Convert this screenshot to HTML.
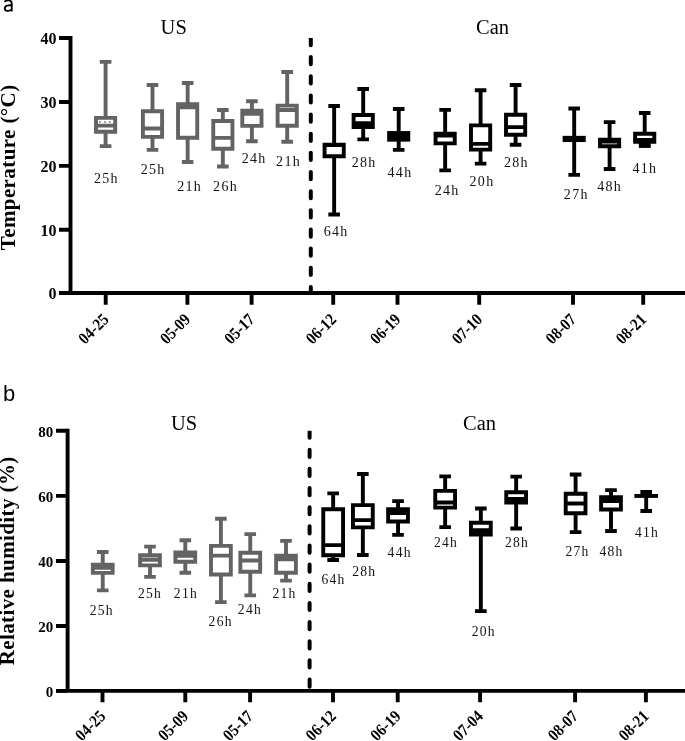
<!DOCTYPE html><html><head><meta charset="utf-8"><style>
html,body{margin:0;padding:0;background:#fff;width:685px;height:741px;overflow:hidden}
svg{display:block;will-change:transform}
.yt{font-family:"Liberation Serif",serif;font-weight:bold}
.xt{font-family:"Liberation Serif",serif;font-weight:bold;font-size:16.8px}
.lb{font-family:"Liberation Serif",serif;fill:#111}
.tt{font-family:"Liberation Serif",serif;font-size:20.5px}
.at{font-family:"Liberation Serif",serif;font-weight:bold;font-size:21px;letter-spacing:0.4px}
.pl{font-family:"Liberation Sans",sans-serif;font-size:22px}
</style></head><body>
<svg width="685" height="741" viewBox="0 0 685 741">
<path d="M11.75 3.2V11.6M4.4 1.7C6.5 0.2 11.7 -0.9 11.75 3.6M11.75 5.3C8.5 5.0 4.8 5.4 4.8 8.4C4.8 11.4 9.2 11.6 11.75 9.4" stroke="#000" stroke-width="1.85" fill="none"/>
<text class="pl" x="3" y="401.3">b</text>
<text class="tt" x="173.7" y="34.4" text-anchor="middle">US</text>
<text class="tt" x="492.6" y="34.4" text-anchor="middle">Can</text>
<text class="tt" x="184" y="430.2" text-anchor="middle">US</text>
<text class="tt" x="479.6" y="430.2" text-anchor="middle">Can</text>
<text class="at" transform="translate(14.9 167.35) rotate(-90)" text-anchor="middle">Temperature (°C)</text>
<text class="at" transform="translate(14.1 560.8) rotate(-90)" text-anchor="middle">Relative humidity (%)</text>
<clipPath id="clipa"><rect x="290" y="38" width="40" height="255"/></clipPath>
<path clip-path="url(#clipa)" d="M310.8 18.8V26M310.8 37.95V45.15M310.8 57.1V64.3M310.8 76.25V83.45M310.8 95.4V102.6M310.8 114.55V121.75M310.8 133.7V140.9M310.8 152.85V160.05M310.8 172V179.2M310.8 191.15V198.35M310.8 210.3V217.5M310.8 229.45V236.65M310.8 248.6V255.8M310.8 267.75V274.95M310.8 286.9V294.1" stroke="#000" stroke-width="4" stroke-linecap="round" fill="none"/>
<path d="M70.5 36.05V293M59 293H685" stroke="#000" stroke-width="3.9" fill="none"/>
<path d="M59 38H70.5M59 102H70.5M59 165.9H70.5M59 229.7H70.5M59 293H70.5" stroke="#000" stroke-width="3.9" fill="none"/>
<path d="M105.7 293V304.7M187.4 293V304.7M251.6 293V304.7M333.2 293V304.7M397.5 293V304.7M479.2 293V304.7M573 293V304.7M643.2 293V304.7" stroke="#000" stroke-width="3.9" fill="none"/>
<text class="yt" style="font-size:16px" x="56.5" y="44.44" text-anchor="end">40</text>
<text class="yt" style="font-size:16px" x="56.5" y="108.44" text-anchor="end">30</text>
<text class="yt" style="font-size:16px" x="56.5" y="172.34" text-anchor="end">20</text>
<text class="yt" style="font-size:16px" x="56.5" y="236.14" text-anchor="end">10</text>
<text class="yt" style="font-size:16px" x="56.5" y="299.44" text-anchor="end">0</text>
<text class="xt" text-anchor="end" transform="translate(109.7 320.4) rotate(-45) scale(0.89 1)">04-25</text>
<text class="xt" text-anchor="end" transform="translate(191.4 320.4) rotate(-45) scale(0.89 1)">05-09</text>
<text class="xt" text-anchor="end" transform="translate(255.6 320.4) rotate(-45) scale(0.89 1)">05-17</text>
<text class="xt" text-anchor="end" transform="translate(337.2 320.4) rotate(-45) scale(0.89 1)">06-12</text>
<text class="xt" text-anchor="end" transform="translate(401.5 320.4) rotate(-45) scale(0.89 1)">06-19</text>
<text class="xt" text-anchor="end" transform="translate(483.2 320.4) rotate(-45) scale(0.89 1)">07-10</text>
<text class="xt" text-anchor="end" transform="translate(577 320.4) rotate(-45) scale(0.89 1)">08-07</text>
<text class="xt" text-anchor="end" transform="translate(647.2 320.4) rotate(-45) scale(0.89 1)">08-21</text>
<path d="M99.8 61.9H111.4M105.6 61.9V117.85M105.6 131.7V146.15M99.8 146.15H111.4" stroke="#636363" stroke-width="3.9" fill="none"/>
<path d="M94.05 115.9H117.15V133.65H94.05ZM97.95 119.8H113.25V123.65H97.95ZM97.95 127.55H113.25V129.75H97.95Z" fill="#636363" fill-rule="evenodd"/>
<path d="M99.15 121.9H111.1" stroke="#636363" stroke-width="1.5" stroke-dasharray="1.5 3.5"/>
<path d="M146.7 85H158.3M152.5 85V111.2M152.5 136.9V149.9M146.7 149.9H158.3" stroke="#636363" stroke-width="3.9" fill="none"/>
<path d="M140.95 109.25H164.05V138.85H140.95ZM144.85 113.15H160.15V126.5H144.85ZM144.85 130.4H160.15V134.95H144.85Z" fill="#636363" fill-rule="evenodd"/>
<path d="M181.85 83.05H193.45M187.65 83.05V104.2M187.65 137.8V162M181.85 162H193.45" stroke="#636363" stroke-width="3.9" fill="none"/>
<path d="M176.1 102.25H199.2V139.75H176.1ZM180 109.35H195.3V135.85H180Z" fill="#636363" fill-rule="evenodd"/>
<path d="M217.05 110.05H228.65M222.85 110.05V120.95M222.85 148.75V166.55M217.05 166.55H228.65" stroke="#636363" stroke-width="3.9" fill="none"/>
<path d="M211.3 119H234.4V150.7H211.3ZM215.2 122.9H230.5V135.95H215.2ZM215.2 139.85H230.5V146.8H215.2Z" fill="#636363" fill-rule="evenodd"/>
<path d="M246.1 101.25H257.7M251.9 101.25V110.75M251.9 125.85V141.2M246.1 141.2H257.7" stroke="#636363" stroke-width="3.9" fill="none"/>
<path d="M240.35 108.8H263.45V127.8H240.35ZM244.25 115.75H259.55V123.9H244.25Z" fill="#636363" fill-rule="evenodd"/>
<path d="M281.4 72.05H293M287.2 72.05V105.6M287.2 125.7V141.7M281.4 141.7H293" stroke="#636363" stroke-width="3.9" fill="none"/>
<path d="M275.65 103.65H298.75V127.65H275.65ZM279.55 107.55H294.85V108.05H279.55ZM279.55 111.95H294.85V123.75H279.55Z" fill="#636363" fill-rule="evenodd"/>
<path d="M328.35 106.05H339.95M334.15 106.05V144.7M334.15 156.3V214.45M328.35 214.45H339.95" stroke="#000" stroke-width="3.9" fill="none"/>
<path d="M322.6 142.75H345.7V158.25H322.6ZM326.5 146.95H341.8V154.35H326.5Z" fill="#000" fill-rule="evenodd"/>
<path d="M357.4 88.95H369M363.2 88.95V115M363.2 127V139.35M357.4 139.35H369" stroke="#000" stroke-width="3.9" fill="none"/>
<path d="M351.65 113.05H374.75V128.95H351.65ZM355.55 116.95H370.85V121.15H355.55Z" fill="#000" fill-rule="evenodd"/>
<path d="M392.9 108.95H404.5M398.7 108.95V133M398.7 139.7V149.85M392.9 149.85H404.5" stroke="#000" stroke-width="3.9" fill="none"/>
<path d="M387.15 131.05H410.25V141.65H387.15Z" fill="#000" fill-rule="evenodd"/>
<path d="M439.35 109.9H450.95M445.15 109.9V133.7M445.15 143.4V170.35M439.35 170.35H450.95" stroke="#000" stroke-width="3.9" fill="none"/>
<path d="M433.6 131.75H456.7V145.35H433.6ZM437.5 137.45H452.8V141.45H437.5Z" fill="#000" fill-rule="evenodd"/>
<path d="M474.8 90.2H486.4M480.6 90.2V125.4M480.6 149.6V163.6M474.8 163.6H486.4" stroke="#000" stroke-width="3.9" fill="none"/>
<path d="M469.05 123.45H492.15V151.55H469.05ZM472.95 127.35H488.25V141.9H472.95ZM472.95 145.8H488.25V147.65H472.95Z" fill="#000" fill-rule="evenodd"/>
<path d="M509.8 84.95H521.4M515.6 84.95V114.7M515.6 134.8V144.75M509.8 144.75H521.4" stroke="#000" stroke-width="3.9" fill="none"/>
<path d="M504.05 112.75H527.15V136.75H504.05ZM507.95 116.65H523.25V125.15H507.95ZM507.95 129.05H523.25V132.85H507.95Z" fill="#000" fill-rule="evenodd"/>
<path d="M568.4 108.5H580M574.2 108.5V137.8M574.2 140.1V174.9M568.4 174.9H580" stroke="#000" stroke-width="3.9" fill="none"/>
<path d="M562.65 135.85H585.75V142.05H562.65Z" fill="#000" fill-rule="evenodd"/>
<path d="M603.8 122.15H615.4M609.6 122.15V139.6M609.6 146.3V169.05M603.8 169.05H615.4" stroke="#000" stroke-width="3.9" fill="none"/>
<path d="M598.05 137.65H621.15V148.25H598.05ZM601.95 143.55H617.25V144.35H601.95Z" fill="#000" fill-rule="evenodd"/>
<path d="M638.9 112.95H650.5M644.7 112.95V133.8M644.7 141.7V145.75M638.9 145.75H650.5" stroke="#000" stroke-width="3.9" fill="none"/>
<path d="M633.15 131.85H656.25V143.65H633.15ZM637.05 135.75H652.35V137.95H637.05Z" fill="#000" fill-rule="evenodd"/>
<rect x="638.9" y="141.7" width="11.6" height="6" fill="#000"/>
<text class="lb" style="font-size:14px;letter-spacing:1.3px" x="106.4" y="182.7" text-anchor="middle">25h</text>
<text class="lb" style="font-size:14px;letter-spacing:1.3px" x="153.1" y="173.7" text-anchor="middle">25h</text>
<text class="lb" style="font-size:14px;letter-spacing:1.3px" x="189.7" y="191.2" text-anchor="middle">21h</text>
<text class="lb" style="font-size:14px;letter-spacing:1.3px" x="225.55" y="191.2" text-anchor="middle">26h</text>
<text class="lb" style="font-size:14px;letter-spacing:1.3px" x="254.1" y="162.8" text-anchor="middle">24h</text>
<text class="lb" style="font-size:14px;letter-spacing:1.3px" x="288.55" y="166.3" text-anchor="middle">21h</text>
<text class="lb" style="font-size:14px;letter-spacing:1.3px" x="336.15" y="235.8" text-anchor="middle">64h</text>
<text class="lb" style="font-size:14px;letter-spacing:1.3px" x="364.1" y="167.2" text-anchor="middle">28h</text>
<text class="lb" style="font-size:14px;letter-spacing:1.3px" x="400" y="176.6" text-anchor="middle">44h</text>
<text class="lb" style="font-size:14px;letter-spacing:1.3px" x="447.2" y="195" text-anchor="middle">24h</text>
<text class="lb" style="font-size:14px;letter-spacing:1.3px" x="482" y="186.1" text-anchor="middle">20h</text>
<text class="lb" style="font-size:14px;letter-spacing:1.3px" x="516.35" y="167.1" text-anchor="middle">28h</text>
<text class="lb" style="font-size:14px;letter-spacing:1.3px" x="576.3" y="199" text-anchor="middle">27h</text>
<text class="lb" style="font-size:14px;letter-spacing:1.3px" x="609.6" y="190.7" text-anchor="middle">48h</text>
<text class="lb" style="font-size:14px;letter-spacing:1.3px" x="644.85" y="172.6" text-anchor="middle">41h</text>
<clipPath id="clipb"><rect x="290" y="430.8" width="40" height="260.1"/></clipPath>
<path clip-path="url(#clipb)" d="M309.6 411.4V418.6M309.6 430.55V437.75M309.6 449.7V456.9M309.6 468.85V476.05M309.6 488V495.2M309.6 507.15V514.35M309.6 526.3V533.5M309.6 545.45V552.65M309.6 564.6V571.8M309.6 583.75V590.95M309.6 602.9V610.1M309.6 622.05V629.25M309.6 641.2V648.4M309.6 660.35V667.55M309.6 679.5V686.7" stroke="#000" stroke-width="4" stroke-linecap="round" fill="none"/>
<path d="M67.6 428.85V690.9M56 690.9H685" stroke="#000" stroke-width="3.9" fill="none"/>
<path d="M56 430.8H67.6M56 495.9H67.6M56 561H67.6M56 626H67.6M56 690.9H67.6" stroke="#000" stroke-width="3.9" fill="none"/>
<path d="M102.5 690.9V702.2M185.3 690.9V702.2M250.1 690.9V702.2M333 690.9V702.2M397.7 690.9V702.2M480.1 690.9V702.2M575.1 690.9V702.2M645.9 690.9V702.2" stroke="#000" stroke-width="3.9" fill="none"/>
<text class="yt" style="font-size:15px" x="53.3" y="436.8" text-anchor="end">80</text>
<text class="yt" style="font-size:15px" x="53.3" y="501.9" text-anchor="end">60</text>
<text class="yt" style="font-size:15px" x="53.3" y="567" text-anchor="end">40</text>
<text class="yt" style="font-size:15px" x="53.3" y="632" text-anchor="end">20</text>
<text class="yt" style="font-size:15px" x="53.3" y="696.9" text-anchor="end">0</text>
<text class="xt" text-anchor="end" transform="translate(106.5 717.2) rotate(-45) scale(0.89 1)">04-25</text>
<text class="xt" text-anchor="end" transform="translate(189.3 717.2) rotate(-45) scale(0.89 1)">05-09</text>
<text class="xt" text-anchor="end" transform="translate(254.1 717.2) rotate(-45) scale(0.89 1)">05-17</text>
<text class="xt" text-anchor="end" transform="translate(337 717.2) rotate(-45) scale(0.89 1)">06-12</text>
<text class="xt" text-anchor="end" transform="translate(401.7 717.2) rotate(-45) scale(0.89 1)">06-19</text>
<text class="xt" text-anchor="end" transform="translate(484.1 717.2) rotate(-45) scale(0.89 1)">07-04</text>
<text class="xt" text-anchor="end" transform="translate(579.1 717.2) rotate(-45) scale(0.89 1)">08-07</text>
<text class="xt" text-anchor="end" transform="translate(649.9 717.2) rotate(-45) scale(0.89 1)">08-21</text>
<path d="M96.95 552.05H108.55M102.75 552.05V564.7M102.75 572.9V590.35M96.95 590.35H108.55" stroke="#636363" stroke-width="3.9" fill="none"/>
<path d="M90.9 562.75H114.6V574.85H90.9ZM94.8 569.85H110.7V570.95H94.8Z" fill="#636363" fill-rule="evenodd"/>
<path d="M144.2 546.65H155.8M150 546.65V555.3M150 565.4V576.9M144.2 576.9H155.8" stroke="#636363" stroke-width="3.9" fill="none"/>
<path d="M138.15 553.35H161.85V567.35H138.15ZM142.05 557.25H157.95V557.75H142.05ZM142.05 561.65H157.95V563.45H142.05Z" fill="#636363" fill-rule="evenodd"/>
<path d="M179.5 540.2H191.1M185.3 540.2V552.5M185.3 561.8V572.75M179.5 572.75H191.1" stroke="#636363" stroke-width="3.9" fill="none"/>
<path d="M173.45 550.55H197.15V563.75H173.45ZM177.35 557.65H193.25V559.85H177.35Z" fill="#636363" fill-rule="evenodd"/>
<path d="M215.1 518.75H226.7M220.9 518.75V545.9M220.9 574.5V602.15M215.1 602.15H226.7" stroke="#636363" stroke-width="3.9" fill="none"/>
<path d="M209.05 543.95H232.75V576.45H209.05ZM212.95 547.85H228.85V553.65H212.95ZM212.95 557.55H228.85V572.55H212.95Z" fill="#636363" fill-rule="evenodd"/>
<path d="M244.45 534.15H256.05M250.25 534.15V552.8M250.25 571.8V595.4M244.45 595.4H256.05" stroke="#636363" stroke-width="3.9" fill="none"/>
<path d="M238.4 550.85H262.1V573.75H238.4ZM242.3 554.75H258.2V558.55H242.3ZM242.3 562.45H258.2V569.85H242.3Z" fill="#636363" fill-rule="evenodd"/>
<path d="M280.2 540.9H291.8M286 540.9V555.8M286 572.8V580.65M280.2 580.65H291.8" stroke="#636363" stroke-width="3.9" fill="none"/>
<path d="M274.15 553.85H297.85V574.75H274.15ZM278.05 561.35H293.95V570.85H278.05Z" fill="#636363" fill-rule="evenodd"/>
<path d="M327.35 493.35H338.95M333.15 493.35V509.3M333.15 555.2V560M327.35 560H338.95" stroke="#000" stroke-width="3.9" fill="none"/>
<path d="M321.3 507.35H345V557.15H321.3ZM325.2 511.25H341.1V543.15H325.2ZM325.2 547.05H341.1V553.25H325.2Z" fill="#000" fill-rule="evenodd"/>
<path d="M357.05 473.95H368.65M362.85 473.95V505.1M362.85 527.4V555M357.05 555H368.65" stroke="#000" stroke-width="3.9" fill="none"/>
<path d="M351 503.15H374.7V529.35H351ZM354.9 507.05H370.8V518.15H354.9ZM354.9 522.05H370.8V525.45H354.9Z" fill="#000" fill-rule="evenodd"/>
<path d="M392.25 501.15H403.85M398.05 501.15V509.2M398.05 521.5V534.85M392.25 534.85H403.85" stroke="#000" stroke-width="3.9" fill="none"/>
<path d="M386.2 507.25H409.9V523.45H386.2ZM390.1 514.95H406V519.55H390.1Z" fill="#000" fill-rule="evenodd"/>
<path d="M439.35 476.35H450.95M445.15 476.35V490.9M445.15 507.65V527.15M439.35 527.15H450.95" stroke="#000" stroke-width="3.9" fill="none"/>
<path d="M433.3 488.95H457V509.6H433.3ZM437.2 492.85H453.1V500.55H437.2ZM437.2 504.45H453.1V505.7H437.2Z" fill="#000" fill-rule="evenodd"/>
<path d="M475.05 508.55H486.65M480.85 508.55V522.7M480.85 534.5V611.1M475.05 611.1H486.65" stroke="#000" stroke-width="3.9" fill="none"/>
<path d="M469 520.75H492.7V536.45H469ZM472.9 524.65H488.8V528.35H472.9Z" fill="#000" fill-rule="evenodd"/>
<path d="M510.35 476.65H521.95M516.15 476.65V492.3M516.15 502.6V528.45M510.35 528.45H521.95" stroke="#000" stroke-width="3.9" fill="none"/>
<path d="M504.3 490.35H528V504.55H504.3ZM508.2 494.25H524.1V497.05H508.2Z" fill="#000" fill-rule="evenodd"/>
<path d="M569.8 474.45H581.4M575.6 474.45V493.7M575.6 513.3V532.15M569.8 532.15H581.4" stroke="#000" stroke-width="3.9" fill="none"/>
<path d="M563.75 491.75H587.45V515.25H563.75ZM567.65 495.65H583.55V501.6H567.65ZM567.65 505.5H583.55V511.35H567.65Z" fill="#000" fill-rule="evenodd"/>
<path d="M605.2 490.15H616.8M611 490.15V497.2M611 509.45V531.05M605.2 531.05H616.8" stroke="#000" stroke-width="3.9" fill="none"/>
<path d="M599.15 495.25H622.85V511.4H599.15ZM603.05 503.05H618.95V507.5H603.05Z" fill="#000" fill-rule="evenodd"/>
<path d="M640.4 492H652M646.2 492V495.95M646.2 495.95V511.05M640.4 511.05H652" stroke="#000" stroke-width="3.9" fill="none"/>
<path d="M634.35 494H658.05V497.9H634.35Z" fill="#000" fill-rule="evenodd"/>
<text class="lb" style="font-size:13.6px;letter-spacing:1.25px" x="101.7" y="615.4" text-anchor="middle">25h</text>
<text class="lb" style="font-size:13.6px;letter-spacing:1.25px" x="150.05" y="598.3" text-anchor="middle">25h</text>
<text class="lb" style="font-size:13.6px;letter-spacing:1.25px" x="185.9" y="597.8" text-anchor="middle">21h</text>
<text class="lb" style="font-size:13.6px;letter-spacing:1.25px" x="220.65" y="625.9" text-anchor="middle">26h</text>
<text class="lb" style="font-size:13.6px;letter-spacing:1.25px" x="249.9" y="613.7" text-anchor="middle">24h</text>
<text class="lb" style="font-size:13.6px;letter-spacing:1.25px" x="284.55" y="597.7" text-anchor="middle">21h</text>
<text class="lb" style="font-size:13.6px;letter-spacing:1.25px" x="333.55" y="583.8" text-anchor="middle">64h</text>
<text class="lb" style="font-size:13.6px;letter-spacing:1.25px" x="364.35" y="576.3" text-anchor="middle">28h</text>
<text class="lb" style="font-size:13.6px;letter-spacing:1.25px" x="399.65" y="557" text-anchor="middle">44h</text>
<text class="lb" style="font-size:13.6px;letter-spacing:1.25px" x="446" y="546.9" text-anchor="middle">24h</text>
<text class="lb" style="font-size:13.6px;letter-spacing:1.25px" x="483.75" y="636.1" text-anchor="middle">20h</text>
<text class="lb" style="font-size:13.6px;letter-spacing:1.25px" x="517" y="546.9" text-anchor="middle">28h</text>
<text class="lb" style="font-size:13.6px;letter-spacing:1.25px" x="577.45" y="555.9" text-anchor="middle">27h</text>
<text class="lb" style="font-size:13.6px;letter-spacing:1.25px" x="611.55" y="555.9" text-anchor="middle">48h</text>
<text class="lb" style="font-size:13.6px;letter-spacing:1.25px" x="646.95" y="536.6" text-anchor="middle">41h</text>
</svg></body></html>
